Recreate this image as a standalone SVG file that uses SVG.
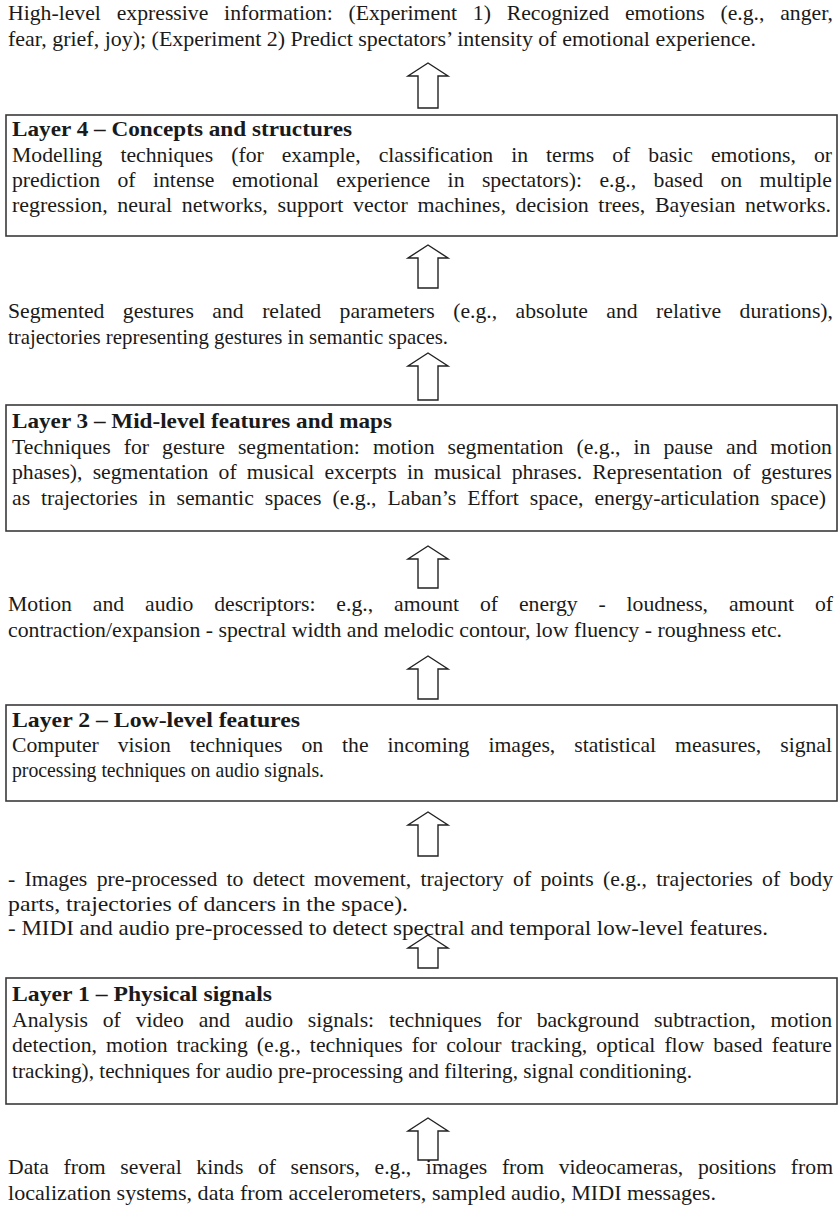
<svg xmlns="http://www.w3.org/2000/svg" width="840" height="1216" viewBox="0 0 840 1216">
<style>
  text { font-family: "Liberation Serif", "Times New Roman", serif; font-size: 21px; fill: #1a1a1a; }
  .t { font-weight: bold; }
  .box { fill: #ffffff; stroke: #3a3a3a; stroke-width: 1.6; }
  .arrow { fill: #ffffff; stroke: #222222; stroke-width: 1.4; stroke-linejoin: miter; }
</style>
<rect width="840" height="1216" fill="#ffffff"/>

<g id="connectors">
  <polygon class="arrow" points="428,63 408,76 418,76 418,108 438,108 438,76 448,76"/>
  <polygon class="arrow" points="428,245 408,258 418,258 418,288 438,288 438,258 448,258"/>
  <polygon class="arrow" points="428,353 408,366 418,366 418,400 438,400 438,366 448,366"/>
  <polygon class="arrow" points="428,546 408,559 418,559 418,588 438,588 438,559 448,559"/>
  <polygon class="arrow" points="428,656 408,669 418,669 418,699 438,699 438,669 448,669"/>
  <polygon class="arrow" points="428,812 408,825 418,825 418,856 438,856 438,825 448,825"/>
  <polygon class="arrow" points="428,935 408,948 418,948 418,968 438,968 438,948 448,948"/>
  <polygon class="arrow" points="428,1118 408,1131 418,1131 418,1160 438,1160 438,1131 448,1131"/>
</g>

<g id="top-info">
  <text x="8" y="20" word-spacing="10" textLength="825" lengthAdjust="spacingAndGlyphs">High-level expressive information: (Experiment 1) Recognized emotions (e.g., anger,</text>
  <text x="8" y="46" textLength="748" lengthAdjust="spacingAndGlyphs">fear, grief, joy); (Experiment 2) Predict spectators’ intensity of emotional experience.</text>
</g>

<g id="layer4">
  <rect class="box" x="6" y="115" width="831" height="121"/>
  <text class="t" x="12" y="136" textLength="340" lengthAdjust="spacingAndGlyphs">Layer 4 – Concepts and structures</text>
  <text x="12" y="162" word-spacing="12.2" textLength="820" lengthAdjust="spacingAndGlyphs">Modelling techniques (for example, classification in terms of basic emotions, or</text>
  <text x="12" y="187" word-spacing="11.6" textLength="820" lengthAdjust="spacingAndGlyphs">prediction of intense emotional experience in spectators): e.g., based on multiple</text>
  <text x="12" y="212" word-spacing="4" textLength="819" lengthAdjust="spacingAndGlyphs">regression, neural networks, support vector machines, decision trees, Bayesian networks.</text>
</g>

<g id="mid-info">
  <text x="8" y="318" word-spacing="12.6" textLength="825" lengthAdjust="spacingAndGlyphs">Segmented gestures and related parameters (e.g., absolute and relative durations),</text>
  <text x="8" y="344" textLength="440" lengthAdjust="spacingAndGlyphs">trajectories representing gestures in semantic spaces.</text>
</g>

<g id="layer3">
  <rect class="box" x="6" y="405" width="831" height="126"/>
  <text class="t" x="12" y="428" textLength="380" lengthAdjust="spacingAndGlyphs">Layer 3 – Mid-level features and maps</text>
  <text x="12" y="454" word-spacing="7.3" textLength="820" lengthAdjust="spacingAndGlyphs">Techniques for gesture segmentation: motion segmentation (e.g., in pause and motion</text>
  <text x="12" y="479" word-spacing="4.6" textLength="820" lengthAdjust="spacingAndGlyphs">phases), segmentation of musical excerpts in musical phrases. Representation of gestures</text>
  <text x="12" y="505" word-spacing="5.3" textLength="814" lengthAdjust="spacingAndGlyphs">as trajectories in semantic spaces (e.g., Laban’s Effort space, energy-articulation space)</text>
</g>

<g id="descriptors-info">
  <text x="8" y="611" word-spacing="14.9" textLength="825" lengthAdjust="spacingAndGlyphs">Motion and audio descriptors: e.g., amount of energy - loudness, amount of</text>
  <text x="8" y="637" textLength="774" lengthAdjust="spacingAndGlyphs">contraction/expansion - spectral width and melodic contour, low fluency - roughness etc.</text>
</g>

<g id="layer2">
  <rect class="box" x="6" y="705" width="831" height="96"/>
  <text class="t" x="12" y="727" textLength="288" lengthAdjust="spacingAndGlyphs">Layer 2 – Low-level features</text>
  <text x="12" y="752" word-spacing="13.1" textLength="820" lengthAdjust="spacingAndGlyphs">Computer vision techniques on the incoming images, statistical measures, signal</text>
  <text x="12" y="777" textLength="312" lengthAdjust="spacingAndGlyphs">processing techniques on audio signals.</text>
</g>

<g id="preprocessed-info">
  <text x="8" y="886" word-spacing="3.8" textLength="825" lengthAdjust="spacingAndGlyphs">- Images pre-processed to detect movement, trajectory of points (e.g., trajectories of body</text>
  <text x="8" y="911" textLength="400" lengthAdjust="spacingAndGlyphs">parts, trajectories of dancers in the space).</text>
  <text x="8" y="935" textLength="760" lengthAdjust="spacingAndGlyphs">- MIDI and audio pre-processed to detect spectral and temporal low-level features.</text>
</g>

<g id="layer1">
  <rect class="box" x="6" y="978" width="831" height="126"/>
  <text class="t" x="12" y="1001" textLength="260" lengthAdjust="spacingAndGlyphs">Layer 1 – Physical signals</text>
  <text x="12" y="1027" word-spacing="9.1" textLength="820" lengthAdjust="spacingAndGlyphs">Analysis of video and audio signals: techniques for background subtraction, motion</text>
  <text x="12" y="1052" word-spacing="3.5" textLength="820" lengthAdjust="spacingAndGlyphs">detection, motion tracking (e.g., techniques for colour tracking, optical flow based feature</text>
  <text x="12" y="1078" textLength="680" lengthAdjust="spacingAndGlyphs">tracking), techniques for audio pre-processing and filtering, signal conditioning.</text>
</g>

<g id="sensors-info">
  <text x="8" y="1174" word-spacing="8.9" textLength="825" lengthAdjust="spacingAndGlyphs">Data from several kinds of sensors, e.g., images from videocameras, positions from</text>
  <text x="8" y="1200" textLength="708" lengthAdjust="spacingAndGlyphs">localization systems, data from accelerometers, sampled audio, MIDI messages.</text>
</g>
</svg>
